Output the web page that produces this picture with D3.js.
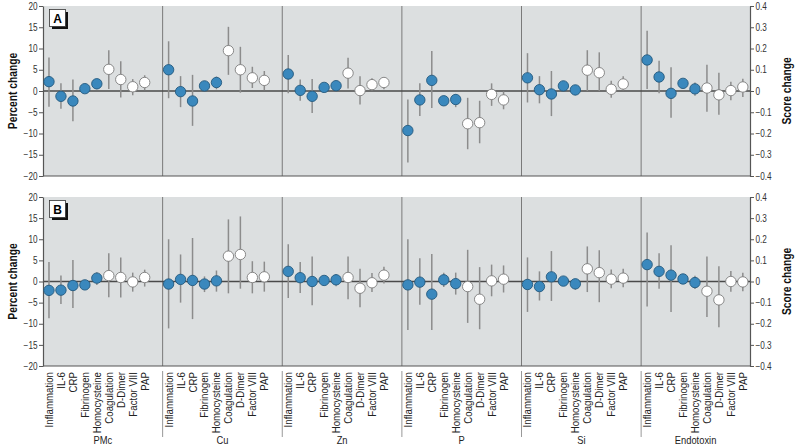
<!doctype html>
<html>
<head>
<meta charset="utf-8"/>
<title>Percent change by component</title>
<script src="https://d3js.org/d3.v7.min.js"></script>
<style>
body{margin:0;background:#fff;}
text{font-family:"Liberation Sans",Arial,sans-serif;}
</style>
</head>
<body>
<script>
// groups and outcome markers
var groups = ["PMc", "Cu", "Zn", "P", "Si", "Endotoxin"];
var markers = ["Inflammation", "IL-6", "CRP", "Fibrinogen", "Homocysteine", "Coagulation", "D-Dimer", "Factor VIII", "PAP"];
var filled = [1, 1, 1, 1, 1, 0, 0, 0, 0];
var leftTicks = [20, 15, 10, 5, 0, -5, -10, -15, -20];
var rightTicks = [0.4, 0.3, 0.2, 0.1, 0, -0.1, -0.2, -0.3, -0.4];

// panel A : estimate, lower, upper (one row per group)
var aEst = [
 [2.2, -1.25, -2.35, 0.55, 1.7, 5.1, 2.7, 1.0, 2.0],
 [5.0, -0.15, -2.35, 1.2, 2.0, 9.5, 5.0, 3.1, 2.5],
 [4.0, 0.15, -1.25, 0.85, 1.25, 4.2, 0.1, 1.5, 2.0],
 [-9.3, -2.1, 2.5, -2.3, -2.0, -7.7, -7.45, -0.8, -2.1],
 [3.1, 0.3, -0.7, 1.2, 0.25, 4.9, 4.3, 0.4, 1.65],
 [7.3, 3.3, -0.55, 1.8, 0.5, 0.7, -0.9, 0.1, 0.95]
];
var aLo = [
 [-3.7, -4.2, -7.1, -0.1, 0.4, 0.5, -1.5, -1.0, 0.2],
 [-1.7, -3.8, -8.2, 0.1, 0.4, 3.8, -0.4, 0.7, 0.2],
 [-0.5, -2.3, -5.2, 0.2, 0.5, 0.6, -3.2, 0.1, 0.4],
 [-16.8, -5.9, -4.0, -3.0, -3.8, -13.7, -12.3, -3.5, -4.3],
 [-2.7, -2.9, -5.9, 0.2, -1.0, 0.0, 0.0, -1.6, 0.2],
 [0.5, -0.5, -6.3, 0.9, -1.1, -4.9, -5.6, -2.2, -1.4]
];
var aHi = [
 [7.9, 1.8, 2.7, 1.1, 2.8, 9.6, 7.0, 2.8, 3.7],
 [11.7, 3.5, 3.8, 2.3, 3.4, 15.1, 10.4, 5.7, 4.7],
 [8.5, 2.7, 2.8, 1.5, 2.0, 7.8, 3.5, 3.0, 3.2],
 [-2.0, 1.8, 9.4, -1.6, -0.7, -1.6, -2.3, 1.8, -0.1],
 [8.9, 3.5, 4.7, 2.1, 1.25, 9.6, 9.1, 2.4, 3.45],
 [14.2, 7.1, 5.6, 2.7, 2.0, 6.2, 4.3, 2.2, 2.9]
];

// panel B
var bEst = [
 [-2.1, -2.05, -0.95, -0.8, 0.8, 1.4, 0.95, -0.1, 0.95],
 [-0.6, 0.5, 0.25, -0.6, 0.15, 6.0, 6.4, 0.95, 1.1],
 [2.4, 0.9, 0.0, 0.25, 0.4, 0.95, -1.6, -0.3, 1.5],
 [-0.8, -0.15, -3.0, 0.4, -0.5, -1.2, -4.2, 0.15, 0.55],
 [-0.7, -1.2, 1.1, 0.1, -0.55, 3.0, 2.1, 0.55, 0.8],
 [4.0, 2.4, 1.5, 0.6, -0.25, -2.3, -4.35, 0.0, -0.1]
];
var bLo = [
 [-8.7, -5.35, -6.3, -1.4, -0.8, -3.7, -3.8, -2.4, -1.2],
 [-11.1, -5.0, -8.9, -2.5, -2.4, -2.8, -1.7, -2.8, -2.4],
 [-3.9, -2.7, -5.6, -0.4, -1.1, -4.2, -6.1, -2.5, -0.5],
 [-11.5, -5.5, -11.5, -1.3, -3.1, -9.8, -11.3, -3.5, -2.6],
 [-7.2, -4.5, -4.6, -0.7, -2.0, -2.5, -4.9, -1.6, -1.35],
 [-5.9, -1.7, -7.2, -0.2, -1.8, -8.4, -10.8, -2.4, -2.3]
];
var bHi = [
 [4.6, 1.4, 5.1, -0.2, 2.2, 6.7, 5.7, 2.1, 2.8],
 [10.0, 6.4, 10.3, 1.2, 2.6, 14.7, 15.4, 4.8, 4.7],
 [8.8, 4.6, 5.9, 0.9, 1.8, 5.9, 3.0, 2.0, 3.5],
 [10.0, 5.5, 6.5, 2.1, 2.1, 7.5, 3.4, 4.0, 3.8],
 [5.7, 2.4, 7.2, 0.9, 0.6, 8.3, 7.4, 2.85, 3.0],
 [11.6, 6.7, 8.6, 1.4, 1.35, 5.9, 3.6, 2.5, 2.1]
];

var W = 800, H = 447;
var left = 43, right = 750;
var narrow = 0.82; // condensed look
var panels = [
  {name: "A", top: 6, bottom: 176, est: aEst, lo: aLo, hi: aHi},
  {name: "B", top: 197, bottom: 366, est: bEst, lo: bLo, hi: bHi}
];

var svg = d3.select("body").append("svg")
  .attr("width", W)
  .attr("height", H);

// 10 slots per group, last group cut by the right axis
var x = d3.scaleLinear().domain([0, 59.1]).range([left, right]);
function px(g, j) { return x(g * 10 + 0.5 + j); }

var fmtL = function(d){ return d3.format("d")(d); };
var fmtR = function(d){ return d === 0 ? "0" : d3.format(".1f")(d); };

panels.forEach(function(p) {
  var y = d3.scaleLinear().domain([-20, 20]).range([p.bottom, p.top]);
  var yR = d3.scaleLinear().domain([-0.4, 0.4]).range([p.bottom, p.top]);
  var g = svg.append("g");

  g.append("rect")
    .attr("x", left).attr("y", p.top)
    .attr("width", right - left).attr("height", p.bottom - p.top)
    .attr("fill", "#dcdfe0");

  // group dividers
  g.selectAll("line.div")
    .data(d3.range(1, groups.length))
    .enter().append("line")
    .attr("x1", function(d){ return x(d * 10); })
    .attr("x2", function(d){ return x(d * 10); })
    .attr("y1", p.top).attr("y2", p.bottom)
    .attr("stroke", "#7a7a7a").attr("stroke-width", 1);

  // zero line
  g.append("line")
    .attr("x1", left).attr("x2", right)
    .attr("y1", y(0)).attr("y2", y(0))
    .attr("stroke", "#4a4a4a").attr("stroke-width", 1.3);

  // bottom line
  g.append("line")
    .attr("x1", left).attr("x2", right)
    .attr("y1", p.bottom).attr("y2", p.bottom)
    .attr("stroke", "#555").attr("stroke-width", 1.2);

  var axL = g.append("g").attr("transform", "translate(" + left + ",0)")
    .call(d3.axisLeft(y).tickValues(leftTicks).tickSize(4).tickSizeOuter(0).tickFormat(fmtL));
  var axR = g.append("g").attr("transform", "translate(" + right + ",0)")
    .call(d3.axisRight(yR).tickValues(rightTicks).tickSize(4).tickSizeOuter(0).tickFormat(fmtR));
  [axL, axR].forEach(function(a) {
    a.select(".domain").attr("stroke", "#555").attr("stroke-width", 1.2);
    a.selectAll(".tick line").attr("stroke", "#555");
    a.selectAll(".tick text").attr("fill", "#333")
      .style("font-size", "10px")
      .style("font-family", "'Liberation Sans',Arial,sans-serif")
      .attr("transform", "scale(" + narrow + ",1)");
  });
  axL.selectAll(".tick text").attr("x", -5.5 / narrow);
  axR.selectAll(".tick text").attr("x", 5.5 / narrow);

  // flatten the points
  var pts = [];
  groups.forEach(function(gn, gi) {
    markers.forEach(function(m, j) {
      pts.push({g: gi, j: j, v: p.est[gi][j], lo: p.lo[gi][j], hi: p.hi[gi][j]});
    });
  });

  g.selectAll("line.err")
    .data(pts).enter().append("line")
    .attr("x1", function(d){ return px(d.g, d.j); })
    .attr("x2", function(d){ return px(d.g, d.j); })
    .attr("y1", function(d){ return y(d.lo); })
    .attr("y2", function(d){ return y(d.hi); })
    .attr("stroke", "#8c8c8c").attr("stroke-width", 1.5);

  g.selectAll("circle")
    .data(pts).enter().append("circle")
    .attr("cx", function(d){ return px(d.g, d.j); })
    .attr("cy", function(d){ return y(d.v); })
    .attr("r", 5.2)
    .attr("fill", function(d){ return filled[d.j] ? "#3a88bd" : "#ffffff"; })
    .attr("stroke", function(d){ return filled[d.j] ? "#24597e" : "#7d7d7d"; })
    .attr("stroke-width", 0.9);

  // panel letter box with shadow
  g.append("rect").attr("x", 52).attr("y", p.top + 6).attr("width", 16).attr("height", 17)
    .attr("fill", "#111");
  g.append("rect").attr("x", 49.5).attr("y", p.top + 3.5).attr("width", 16).attr("height", 17)
    .attr("fill", "#fff").attr("stroke", "#333").attr("stroke-width", 0.8);
  g.append("text").attr("x", 57.5).attr("y", p.top + 16.5)
    .attr("text-anchor", "middle")
    .style("font-size", "12px").style("font-weight", "bold")
    .text(p.name);

  // axis titles
  var cy = (p.top + p.bottom) / 2;
  g.append("text")
    .attr("transform", "translate(17," + cy + ") rotate(-90) scale(" + narrow + ",1)")
    .attr("text-anchor", "middle")
    .style("font-size", "12.5px").style("font-weight", "bold")
    .attr("fill", "#111")
    .text("Percent change");
  g.append("text")
    .attr("transform", "translate(791," + cy + ") rotate(-90) scale(" + narrow + ",1)")
    .attr("text-anchor", "middle")
    .style("font-size", "12.5px").style("font-weight", "bold")
    .attr("fill", "#111")
    .text("Score change");
});

// category labels below panel B
var lastB = panels[1].bottom;
var lab = svg.append("g");
groups.forEach(function(gn, gi) {
  markers.forEach(function(m, j) {
    lab.append("text")
      .attr("transform", "translate(" + (px(gi, j) + 4) + "," + (lastB + 6) + ") rotate(-90) scale(0.88,1)")
      .attr("text-anchor", "end")
      .style("font-size", "11px")
      .attr("fill", "#222")
      .text(m);
  });
});
lab.selectAll("line")
  .data(d3.range(1, groups.length))
  .enter().append("line")
  .attr("x1", function(d){ return x(d * 10); })
  .attr("x2", function(d){ return x(d * 10); })
  .attr("y1", lastB + 5).attr("y2", 437)
  .attr("stroke", "#999").attr("stroke-width", 1);
lab.selectAll("text.grp")
  .data(groups).enter().append("text")
  .attr("class", "grp")
  .attr("transform", function(d, i){
    var cx = i < groups.length - 1 ? x(i * 10 + 5) : (x(i * 10) + right) / 2;
    return "translate(" + cx + ",444) scale(0.85,1)";
  })
  .attr("text-anchor", "middle")
  .style("font-size", "11px")
  .attr("fill", "#222")
  .text(function(d){ return d; });
</script>
</body>
</html>
